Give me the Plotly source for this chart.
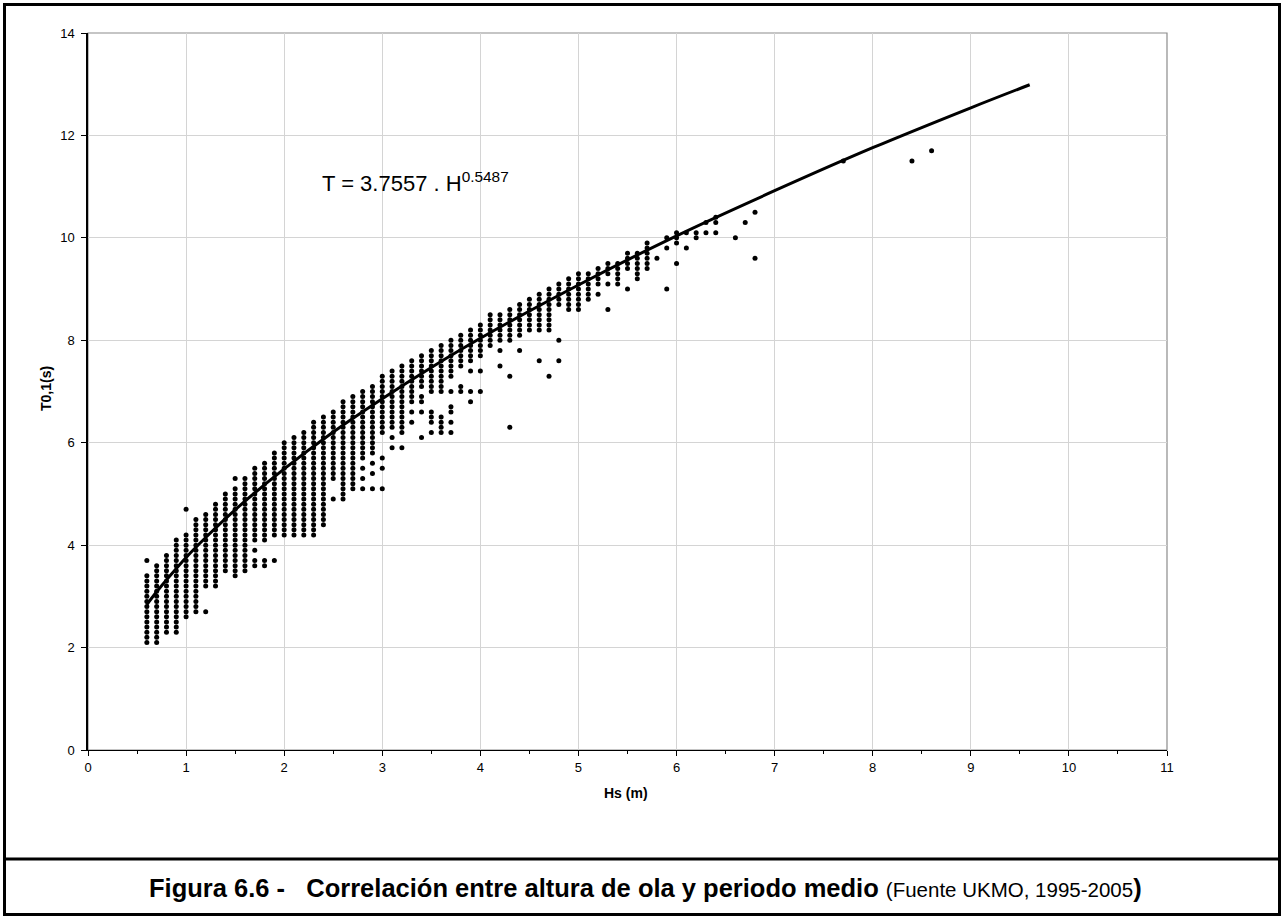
import plotly.graph_objects as go

# ---- Data ----
# Dense columns of observations (T quantised at 0.1 s): Hs, lowest and highest T of each column
core_hs = [0.6, 0.7, 0.8, 0.9, 1.0, 1.1, 1.2, 1.3, 1.4, 1.5, 1.6, 1.7, 1.8, 1.9, 2.0, 2.1, 2.2, 2.3, 2.4, 2.5,
           2.6, 2.7, 2.8, 2.9, 3.0, 3.1, 3.2, 3.3, 3.4, 3.5, 3.6, 3.7, 3.8, 3.9, 4.0, 4.1, 4.2, 4.3, 4.4, 4.5,
           4.6, 4.7, 4.8, 4.9, 5.0, 5.1, 5.2, 5.3, 5.4, 5.5, 5.6, 5.7]
core_low = [2.1, 2.1, 2.3, 2.3, 2.6, 2.7, 3.2, 3.2, 3.5, 3.4, 3.5, 4.1, 4.1, 4.2, 4.2, 4.2, 4.2, 4.2, 4.4, 5.3,
            5.0, 5.1, 5.7, 5.8, 6.2, 6.3, 6.2, 6.8, 7.1, 7.0, 7.0, 7.3, 7.5, 7.6, 7.7, 7.9, 8.0, 8.0, 8.1, 8.2,
            8.2, 8.2, 8.7, 8.6, 8.6, 8.8, 9.1, 9.3, 9.1, 9.4, 9.2, 9.4]
core_high = [3.4, 3.6, 3.8, 4.1, 4.2, 4.5, 4.6, 4.8, 5.0, 5.1, 5.3, 5.5, 5.6, 5.8, 6.0, 6.1, 6.2, 6.4, 6.5, 6.6,
             6.8, 6.9, 7.0, 7.1, 7.3, 7.4, 7.5, 7.6, 7.7, 7.8, 7.9, 8.0, 8.1, 8.2, 8.3, 8.5, 8.5, 8.6, 8.7, 8.8,
             8.9, 9.0, 9.1, 9.2, 9.3, 9.3, 9.4, 9.5, 9.5, 9.7, 9.7, 9.9]

# Isolated observations outside the dense columns
extra_hs = [0.6, 1.0, 1.2, 1.5, 1.7, 1.7, 1.7, 1.8, 1.8, 1.9, 2.5, 2.6, 2.8, 2.8, 2.8, 2.9, 2.9, 2.9,
            3.0, 3.0, 3.0, 3.1, 3.1, 3.2, 3.3, 3.3, 3.4, 3.4, 3.4, 3.4, 3.5, 3.5, 3.5, 3.5, 3.6, 3.6, 3.6, 3.6,
            3.7, 3.7, 3.7, 3.7, 3.7, 3.8, 3.8, 3.9, 3.9, 3.9, 4.0, 4.0, 4.2, 4.2, 4.3, 4.3, 4.4, 4.6, 4.7,
            4.8, 4.8, 5.2, 5.3, 5.3, 5.5, 5.8, 5.9, 5.9, 5.9, 6.0, 6.0, 6.0, 6.0, 6.1, 6.1, 6.2, 6.2,
            6.3, 6.3, 6.4, 6.4, 6.4, 6.6, 6.7, 6.8, 6.8, 7.7, 8.4, 8.6]
extra_t = [3.7, 4.7, 2.7, 5.3, 3.9, 3.7, 3.6, 3.7, 3.6, 3.7, 4.9, 4.9, 5.5, 5.3, 5.1, 5.6, 5.4, 5.1,
           5.7, 5.5, 5.1, 6.1, 5.9, 5.9, 6.6, 6.4, 6.9, 6.8, 6.6, 6.1, 6.6, 6.5, 6.4, 6.2, 6.5, 6.4, 6.3, 6.2,
           7.0, 6.7, 6.6, 6.4, 6.2, 7.1, 7.0, 7.4, 7.0, 6.8, 7.4, 7.0, 7.8, 7.5, 7.3, 6.3, 7.8, 7.6, 7.3,
           8.0, 7.6, 8.9, 9.1, 8.6, 9.0, 9.6, 10.0, 9.8, 9.0, 10.1, 10.0, 9.9, 9.5, 10.1, 9.8, 10.1, 10.0,
           10.3, 10.1, 10.4, 10.3, 10.1, 10.0, 10.3, 10.5, 9.6, 11.5, 11.5, 11.7]

# Fitted curve T = 3.7557 . H^0.5487
fit_h = [0.6, 0.7, 0.8, 1.0, 1.2, 1.5, 2.0, 2.5, 3.0, 3.5, 4.0, 5.0, 6.0, 7.0, 8.0, 9.0, 9.6]
fit_t = [2.84, 3.09, 3.32, 3.76, 4.15, 4.69, 5.49, 6.21, 6.86, 7.47, 8.04, 9.08, 10.04, 10.92, 11.76, 12.54, 12.99]

x_ticks = list(range(0, 12))
y_ticks = list(range(0, 15, 2))

# ---- expand dense columns at the 0.1 s resolution of the record ----
pts_h, pts_t = [], []
for h, lo, hi in zip(core_hs, core_low, core_high):
    n = int(round((hi - lo) * 10))
    for k in range(n + 1):
        pts_h.append(h)
        pts_t.append(round(lo + k / 10, 1))
pts_h += extra_hs
pts_t += extra_t

fig = go.Figure()
fig.add_trace(go.Scatter(x=pts_h, y=pts_t, mode="markers",
                         marker=dict(color="black", size=5, line=dict(width=0)),
                         showlegend=False, hoverinfo="skip"))
fig.add_trace(go.Scatter(x=fit_h, y=fit_t, mode="lines",
                         line=dict(color="black", width=3, shape="spline"),
                         showlegend=False, hoverinfo="skip"))

L, R, T, B = 88, 117, 33, 169
W, H = 1284, 919
pw, ph = W - L - R, H - T - B
def px(x): return (x - L) / pw
def py(y): return (H - B - y) / ph

font_main = "Liberation Sans, Arial, sans-serif"

fig.update_layout(
    width=W, height=H,
    margin=dict(l=L, r=R, t=T, b=B, pad=0),
    paper_bgcolor="white", plot_bgcolor="white",
    font=dict(family=font_main, color="black", size=13),
    xaxis=dict(range=[0, 11], tickvals=x_ticks, ticks="outside", ticklen=5, tickwidth=1,
               tickcolor="black", showline=True, linecolor="black", linewidth=1.2,
               showgrid=True, gridcolor="#d4d4d4", gridwidth=1, zeroline=False,
               minor=dict(dtick=0.5, ticks="outside", ticklen=3, tickcolor="black", showgrid=False),
               tickfont=dict(size=13), fixedrange=True),
    yaxis=dict(range=[0, 14], tickvals=y_ticks, ticks="outside", ticklen=5, tickwidth=1,
               tickcolor="black", showline=True, linecolor="black", linewidth=1.5,
               showgrid=True, gridcolor="#d4d4d4", gridwidth=1, zeroline=False,
               tickfont=dict(size=13), ticklabelstandoff=4, fixedrange=True),
    shapes=[
        # plot frame (gray top/right)
        dict(type="rect", xref="paper", yref="paper", x0=0, x1=1, y0=0, y1=1,
             line=dict(color="#8c8c8c", width=1.2), layer="below"),
        # outer border
        dict(type="rect", xref="paper", yref="paper", x0=px(4.5), x1=px(1279.5), y0=py(914.5), y1=py(4.5),
             line=dict(color="black", width=3)),
        # divider above caption
        dict(type="line", xref="paper", yref="paper", x0=px(4.5), x1=px(1279.5), y0=py(859), y1=py(859),
             line=dict(color="black", width=3)),
    ],
    annotations=[
        dict(text="<b>Hs (m)</b>", xref="paper", yref="paper", x=px(626), y=py(793),
             xanchor="center", yanchor="middle", showarrow=False, font=dict(size=14)),
        dict(text="<b>T0,1(s)</b>", xref="paper", yref="paper", x=px(46), y=py(389),
             xanchor="center", yanchor="middle", showarrow=False, textangle=-90, font=dict(size=14)),
        dict(text="T = 3.7557 . H<sup>0.5487</sup>", xref="x", yref="y", x=2.37, y=11.1,
             xanchor="left", yanchor="middle", showarrow=False, font=dict(size=22)),
        dict(text="<b>Figura 6.6 -&nbsp;&nbsp;&nbsp;Correlación entre altura de ola y periodo medio</b> "
                  "<span style='font-size:20.5px'>(Fuente UKMO, 1995-2005</span><b>)</b>",
             xref="paper", yref="paper", x=px(147), y=py(888), xanchor="left", yanchor="middle",
             showarrow=False, font=dict(size=25.5)),
    ],
)

fig.write_html("out.html")
